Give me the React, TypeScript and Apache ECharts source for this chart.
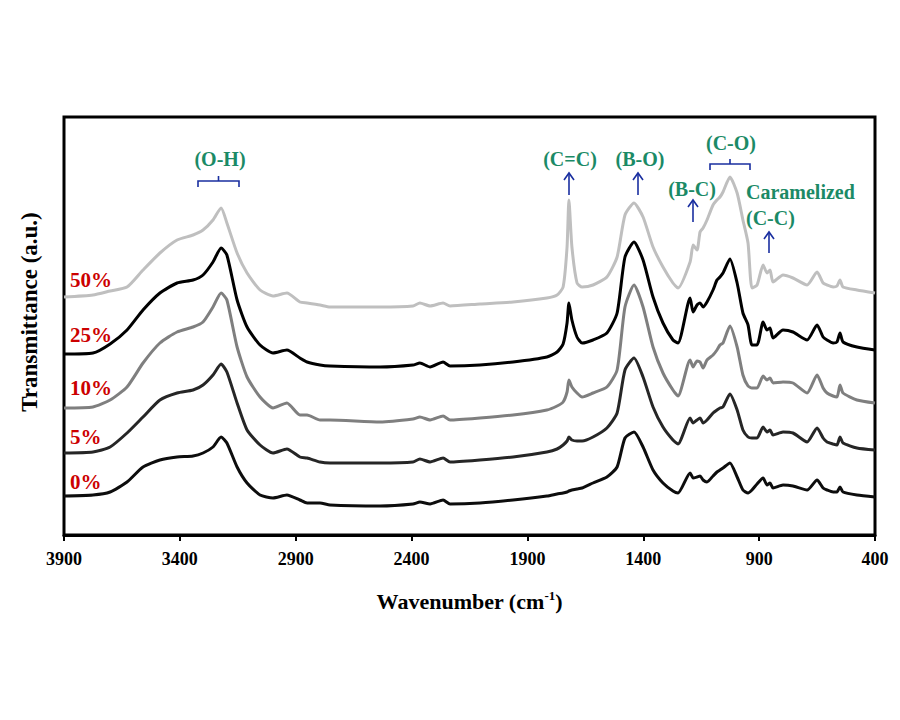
import React, { useEffect, useRef } from "react";
import * as echarts from "echarts";

const WAVENUMBERS = [3900,3775,3701,3628,3559,3486,3412,3343,3300,3257,3222,3197,3153,3110,3054,2998,2938,2882,2851,2795,2752,2536,2394,2364,2320,2264,2234,2105,1962,1816,1772,1746,1729,1721,1708,1686,1664,1617,1557,1513,1479,1440,1401,1358,1315,1272,1250,1198,1185,1168,1155,1142,1125,1099,1082,1069,1056,1026,995,970,948,931,909,883,866,853,840,797,754,693,650,624,607,581,564,551,538,478,400];

const T50 = [238,240,244,248,265,282,295,300,305,315,327,312,282,262,245,239,242,233,232,230,228,228,229,232,229,232,229,231,233,237,240,248,288,335,288,252,248,250,258,278,320,332,318,288,268,252,247,273,290,285,303,307,315,330,335,338,343,358,342,315,292,247,250,270,262,265,253,260,257,250,263,252,250,248,249,255,248,245,242];
const T25 = [181,182,191,205,225,242,252,255,260,273,287,280,235,208,190,182,185,177,173,170,169,168,170,172,168,173,169,170,173,178,183,191,212,232,215,198,192,195,202,222,278,293,275,238,212,195,192,237,223,230,232,228,233,245,255,258,262,276,252,222,210,190,190,213,205,207,197,205,203,195,210,198,195,192,193,202,193,188,185];
const T10 = [127,128,135,148,172,192,203,208,213,228,242,235,188,158,138,127,132,120,120,115,115,113,116,118,115,119,115,117,120,125,129,133,143,155,148,142,138,142,148,165,228,250,228,188,162,145,139,175,168,174,173,167,175,180,185,190,192,209,188,160,149,147,147,159,155,157,152,153,152,142,160,147,142,139,138,150,142,135,132];
const T5 = [82,83,88,102,118,135,142,145,150,160,171,163,132,105,90,82,86,78,77,73,72,72,73,76,73,77,73,75,78,83,86,90,94,98,95,94,94,98,107,122,165,177,158,128,108,95,91,117,112,115,117,112,115,122,125,127,128,141,125,105,98,97,97,108,103,105,100,103,102,93,107,97,93,91,90,98,92,87,85];
const T0 = [39,40,43,53,68,75,78,79,82,88,98,92,68,52,40,37,40,35,32,32,30,29,31,33,31,35,31,32,35,39,41,42,43,44,45,46,47,52,58,68,97,103,88,65,52,44,42,62,57,58,59,55,53,59,63,65,67,72,58,45,42,45,51,57,50,52,47,50,49,45,55,47,45,43,43,48,43,40,38];

const SERIES_NAMES = ["50%", "25%", "10%", "5%", "0%"];
const SERIES_VALUES = [T50, T25, T10, T5, T0];
const SERIES_COLORS = ["#bfbfbf", "#000000", "#7f7f7f", "#262626", "#0d0d0d"];
const X_TICKS = [400, 900, 1400, 1900, 2400, 2900, 3400, 3900];

const SERIF = "'Times New Roman', 'Liberation Serif', serif";
const GREEN = "#1b8a66";
const BLUE = "#1a2fa0";
const RED = "#cc0000";

function arrow(x: number, yTop: number, yBottom: number) {
  return [
    { type: "line", shape: { x1: x, y1: yTop, x2: x, y2: yBottom }, style: { stroke: BLUE, lineWidth: 1.6 } },
    { type: "polyline", shape: { points: [[x - 5, yTop + 7], [x, yTop], [x + 5, yTop + 7]] }, style: { stroke: BLUE, lineWidth: 1.6, fill: "none" } },
  ];
}

function bracket(x1: number, x2: number, y: number) {
  const c = (x1 + x2) / 2;
  return [
    { type: "polyline", shape: { points: [[x1, y + 6], [x1, y], [x2, y], [x2, y + 6]] }, style: { stroke: BLUE, lineWidth: 1.6, fill: "none" } },
    { type: "line", shape: { x1: c, y1: y, x2: c, y2: y - 5 }, style: { stroke: BLUE, lineWidth: 1.6 } },
  ];
}

function label(text: string, x: number, y: number, color: string, size: number, align = "center") {
  return {
    type: "text",
    x,
    y,
    style: { text, fill: color, font: `bold ${size}px ${SERIF}`, align, verticalAlign: "middle" },
  };
}

export default function App() {
  const ref = useRef<HTMLDivElement>(null);
  useEffect(() => {
    if (!ref.current) return;
    const chart = echarts.init(ref.current, undefined, { renderer: "svg" });
    const pctY = [280, 335, 388, 437, 482];
    const option: any = {
      animation: false,
      backgroundColor: "#ffffff",
      grid: { left: 64, right: 25, top: 117, bottom: 185, show: true, borderColor: "#000", borderWidth: 3, backgroundColor: "transparent" },
      xAxis: {
        type: "value",
        min: 400,
        max: 3900,
        inverse: true,
        axisLine: { show: true, onZero: false, lineStyle: { color: "#000", width: 3 } },
        axisTick: { show: true, length: 6, lineStyle: { color: "#000", width: 2 }, customValues: X_TICKS },
        axisLabel: {
          customValues: X_TICKS,
          formatter: (v: number) => String(v),
          margin: 15,
          color: "#000",
          fontFamily: SERIF,
          fontWeight: "bold",
          fontSize: 18,
        },
        splitLine: { show: false },
        name: "{a|Wavenumber (cm}{s|-1}{a|)}",
        nameLocation: "middle",
        nameGap: 53,
        nameTextStyle: {
          rich: {
            a: { fontFamily: SERIF, fontWeight: "bold", fontSize: 22, color: "#000", lineHeight: 26 },
            s: { fontFamily: SERIF, fontWeight: "bold", fontSize: 13, color: "#000", lineHeight: 26, padding: [0, 0, 11, 0] },
          },
        },
      },
      yAxis: { type: "value", min: 0, max: 418, show: false, splitLine: { show: false } },
      series: SERIES_NAMES.map((name, i) => ({
        name,
        type: "line",
        data: WAVENUMBERS.map((w, j) => [w, SERIES_VALUES[i][j]]),
        showSymbol: false,
        smooth: 0.2,
        lineStyle: { color: SERIES_COLORS[i], width: 3 },
        itemStyle: { color: SERIES_COLORS[i] },
        z: 2 + i,
      })),
      graphic: [
        { type: "text", x: 29, y: 312, rotation: Math.PI / 2, style: { text: "Transmittance (a.u.)", fill: "#000", font: `bold 23px ${SERIF}`, align: "center", verticalAlign: "middle" } },
        ...SERIES_NAMES.map((n, i) => label(n, 70, pctY[i], RED, 21, "left")),
        label("(O-H)", 220, 159, GREEN, 20),
        ...bracket(198, 239, 181),
        label("(C=C)", 570, 159, GREEN, 20),
        ...arrow(569, 173, 195),
        label("(B-O)", 640, 159, GREEN, 20),
        ...arrow(638, 173, 195),
        label("(C-O)", 731, 143, GREEN, 20),
        ...bracket(710, 750, 164),
        label("(B-C)", 692, 189, GREEN, 20),
        ...arrow(693, 200, 222),
        label("Caramelized", 746, 192, GREEN, 20, "left"),
        label("(C-C)", 746, 218, GREEN, 20, "left"),
        ...arrow(769, 232, 253),
      ],
    };
    chart.setOption(option);
    return () => chart.dispose();
  }, []);
  return <div ref={ref} style={{ width: 900, height: 720, position: "absolute", left: 0, top: 0 }} />;
}
